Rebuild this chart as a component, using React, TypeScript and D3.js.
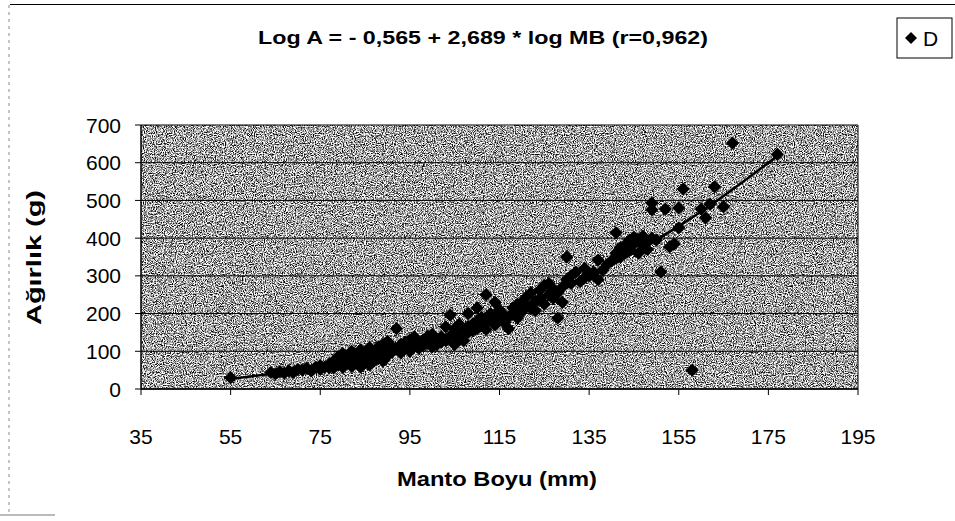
import React from "react";
import * as d3 from "d3";

const lengthsMM: number[] = [
  55, 64, 65, 66, 67, 68, 69, 70, 71, 72, 73, 74, 75, 75, 76, 77, 77, 78, 78, 79, 79, 80, 80, 80, 81, 81, 82, 82, 82, 83, 83, 84, 84, 84, 85, 85, 86, 86, 86, 87, 87, 88, 88, 89, 89, 89, 90, 90, 90, 91, 91, 92, 92, 93, 93, 94, 94, 95, 95, 95, 96, 96, 97, 97, 98, 98, 99, 99, 100, 100, 100, 101, 101, 102, 102, 103, 103, 104, 104, 105, 105, 105, 106, 106, 107, 107, 108, 108, 108, 109, 109, 110, 110, 110, 111, 111, 112, 112, 112, 113, 113, 114, 114, 114, 115, 115, 116, 116, 117, 117, 118, 118, 119, 119, 120, 120, 121, 121, 122, 122, 123, 123, 124, 124, 125, 125, 126, 126, 127, 127, 128, 128, 129, 129, 130, 130, 131, 131, 132, 133, 134, 134, 135, 136, 137, 137, 138, 139, 140, 141, 141, 142, 142, 143, 143, 144, 144, 145, 145, 146, 146, 147, 147, 148, 148, 149, 149, 149, 150, 151, 152, 153, 154, 155, 155, 156, 158, 160, 161, 162, 163, 165, 167, 177
];
const weightsG: number[] = [
  30, 44, 40, 46, 42, 48, 44, 52, 50, 55, 48, 58, 62, 52, 58, 66, 56, 74, 56, 86, 64, 78, 94, 58, 68, 88, 80, 100, 60, 70, 92, 82, 58, 104, 94, 70, 84, 110, 64, 98, 74, 112, 82, 100, 118, 74, 88, 108, 126, 98, 112, 160, 106, 118, 96, 124, 108, 112, 130, 100, 118, 138, 124, 108, 130, 116, 122, 140, 128, 112, 145, 132, 118, 138, 124, 165, 128, 196, 140, 144, 118, 160, 172, 136, 158, 128, 166, 150, 200, 172, 154, 180, 160, 215, 168, 190, 250, 176, 158, 186, 200, 230, 170, 192, 182, 210, 196, 176, 190, 160, 200, 215, 188, 225, 230, 205, 244, 220, 215, 255, 232, 208, 262, 240, 275, 225, 250, 280, 265, 240, 188, 255, 270, 230, 350, 290, 300, 280, 310, 285, 320, 295, 300, 310, 342, 290, 315, 330, 340, 360, 414, 375, 350, 380, 365, 395, 370, 403, 385, 360, 395, 380, 405, 390, 370, 493, 475, 400, 395, 310, 477, 377, 385, 427, 480, 530, 50, 477, 454, 490, 536, 483, 652, 622
];

const trendMM: number[] = [55, 65, 75, 85, 95, 105, 115, 125, 135, 145, 155, 165, 177];
const trendG: number[] = [27, 42, 61, 86, 116, 152, 194, 243, 298, 361, 432, 512, 618];

const xTicks: number[] = [35, 55, 75, 95, 115, 135, 155, 175, 195];
const yTicks: number[] = [0, 100, 200, 300, 400, 500, 600, 700];

const titleText = "Log A = - 0,565 + 2,689 * log MB (r=0,962)";
const xTitle = "Manto Boyu (mm)";
const yTitle = "Ağırlık (g)";
const legendLabel = "D";

export default function App() {
  const W = 955, H = 521;
  const plot = { left: 141, right: 858, top: 125, bottom: 389 };
  const x = d3.scaleLinear().domain([35, 195]).range([plot.left, plot.right]);
  const y = d3.scaleLinear().domain([0, 700]).range([plot.bottom, plot.top]);
  const diamond = d3.symbol().type(d3.symbolSquare).size(88)() as string;
  const line = d3
    .line<number>()
    .x((_, i) => x(trendMM[i]))
    .y((d) => y(d))
    .curve(d3.curveMonotoneX);
  const font = "'Liberation Sans', Arial, sans-serif";

  return (
    <svg
      width={W}
      height={H}
      style={{ position: "absolute", left: 0, top: 0, background: "#fff" }}
      fontFamily={font}
    >
      <defs>
        <filter
          id="speckle"
          x="0"
          y="0"
          width="100%"
          height="100%"
          filterUnits="objectBoundingBox"
          colorInterpolationFilters="sRGB"
        >
          <feTurbulence type="fractalNoise" baseFrequency="0.9" numOctaves="2" seed="5" result="t" />
          <feColorMatrix
            in="t"
            type="matrix"
            values="2.8 0 0 0 -0.76  2.8 0 0 0 -0.76  2.8 0 0 0 -0.76  0 0 0 0 1"
          />
        </filter>
      </defs>

      {/* outer frame fragments */}
      <line x1={10} x2={955} y1={4.5} y2={4.5} stroke="#000" strokeWidth={1.2} />
      <line x1={9} x2={9} y1={5} y2={515} stroke="#888" strokeWidth={1} strokeDasharray="3,4" />
      <line x1={0} x2={55} y1={515} y2={515} stroke="#777" strokeWidth={1} />

      {/* title */}
      <text
        x={258}
        y={44}
        fontSize={19}
        fontWeight="bold"
        textLength={450}
        lengthAdjust="spacingAndGlyphs"
      >
        {titleText}
      </text>

      {/* legend */}
      <rect x={897} y={18} width={55} height={40} fill="#fff" stroke="#000" strokeWidth={1} />
      <path d={diamond} transform="translate(911,38) rotate(45) scale(0.9)" fill="#000" />
      <text x={923} y={46} fontSize={21}>
        {legendLabel}
      </text>

      {/* plot background */}
      <rect
        x={plot.left}
        y={plot.top}
        width={plot.right - plot.left}
        height={plot.bottom - plot.top}
        fill="#a8a8a8"
        filter="url(#speckle)"
      />
      {/* gridlines */}
      {yTicks.map((t) => (
        <line key={"g" + t} x1={plot.left} x2={plot.right} y1={y(t)} y2={y(t)} stroke="#000" strokeWidth={1} />
      ))}
      <line x1={plot.right} x2={plot.right} y1={plot.top} y2={plot.bottom} stroke="#000" strokeWidth={1} />
      {/* axes */}
      <line x1={plot.left} x2={plot.left} y1={plot.top} y2={plot.bottom} stroke="#000" strokeWidth={1.5} />
      <line x1={plot.left} x2={plot.right} y1={plot.bottom} y2={plot.bottom} stroke="#000" strokeWidth={1.5} />
      {xTicks.map((t) => (
        <g key={"x" + t}>
          <line x1={x(t)} x2={x(t)} y1={plot.bottom} y2={plot.bottom + 6} stroke="#000" strokeWidth={1} />
          <text x={x(t)} y={444} textAnchor="middle" fontSize={21}>
            {t}
          </text>
        </g>
      ))}
      {yTicks.map((t) => (
        <g key={"y" + t}>
          <line x1={plot.left - 6} x2={plot.left} y1={y(t)} y2={y(t)} stroke="#000" strokeWidth={1} />
          <text x={121} y={y(t) + 7.5} textAnchor="end" fontSize={21}>
            {t}
          </text>
        </g>
      ))}

      {/* axis titles */}
      <text
        x={397}
        y={486}
        fontSize={20}
        fontWeight="bold"
        textLength={200}
        lengthAdjust="spacingAndGlyphs"
      >
        {xTitle}
      </text>
      <text
        transform={`translate(41,325) rotate(-90)`}
        fontSize={21}
        fontWeight="bold"
        textLength={135}
        lengthAdjust="spacingAndGlyphs"
      >
        {yTitle}
      </text>

      {/* points */}
      {lengthsMM.map((l, i) => (
        <path
          key={"p" + i}
          d={diamond}
          transform={`translate(${x(l)},${y(weightsG[i])}) rotate(45)`}
          fill="#000"
        />
      ))}
      {/* trend line */}
      <path d={line(trendG) as string} fill="none" stroke="#000" strokeWidth={2.5} />
    </svg>
  );
}
